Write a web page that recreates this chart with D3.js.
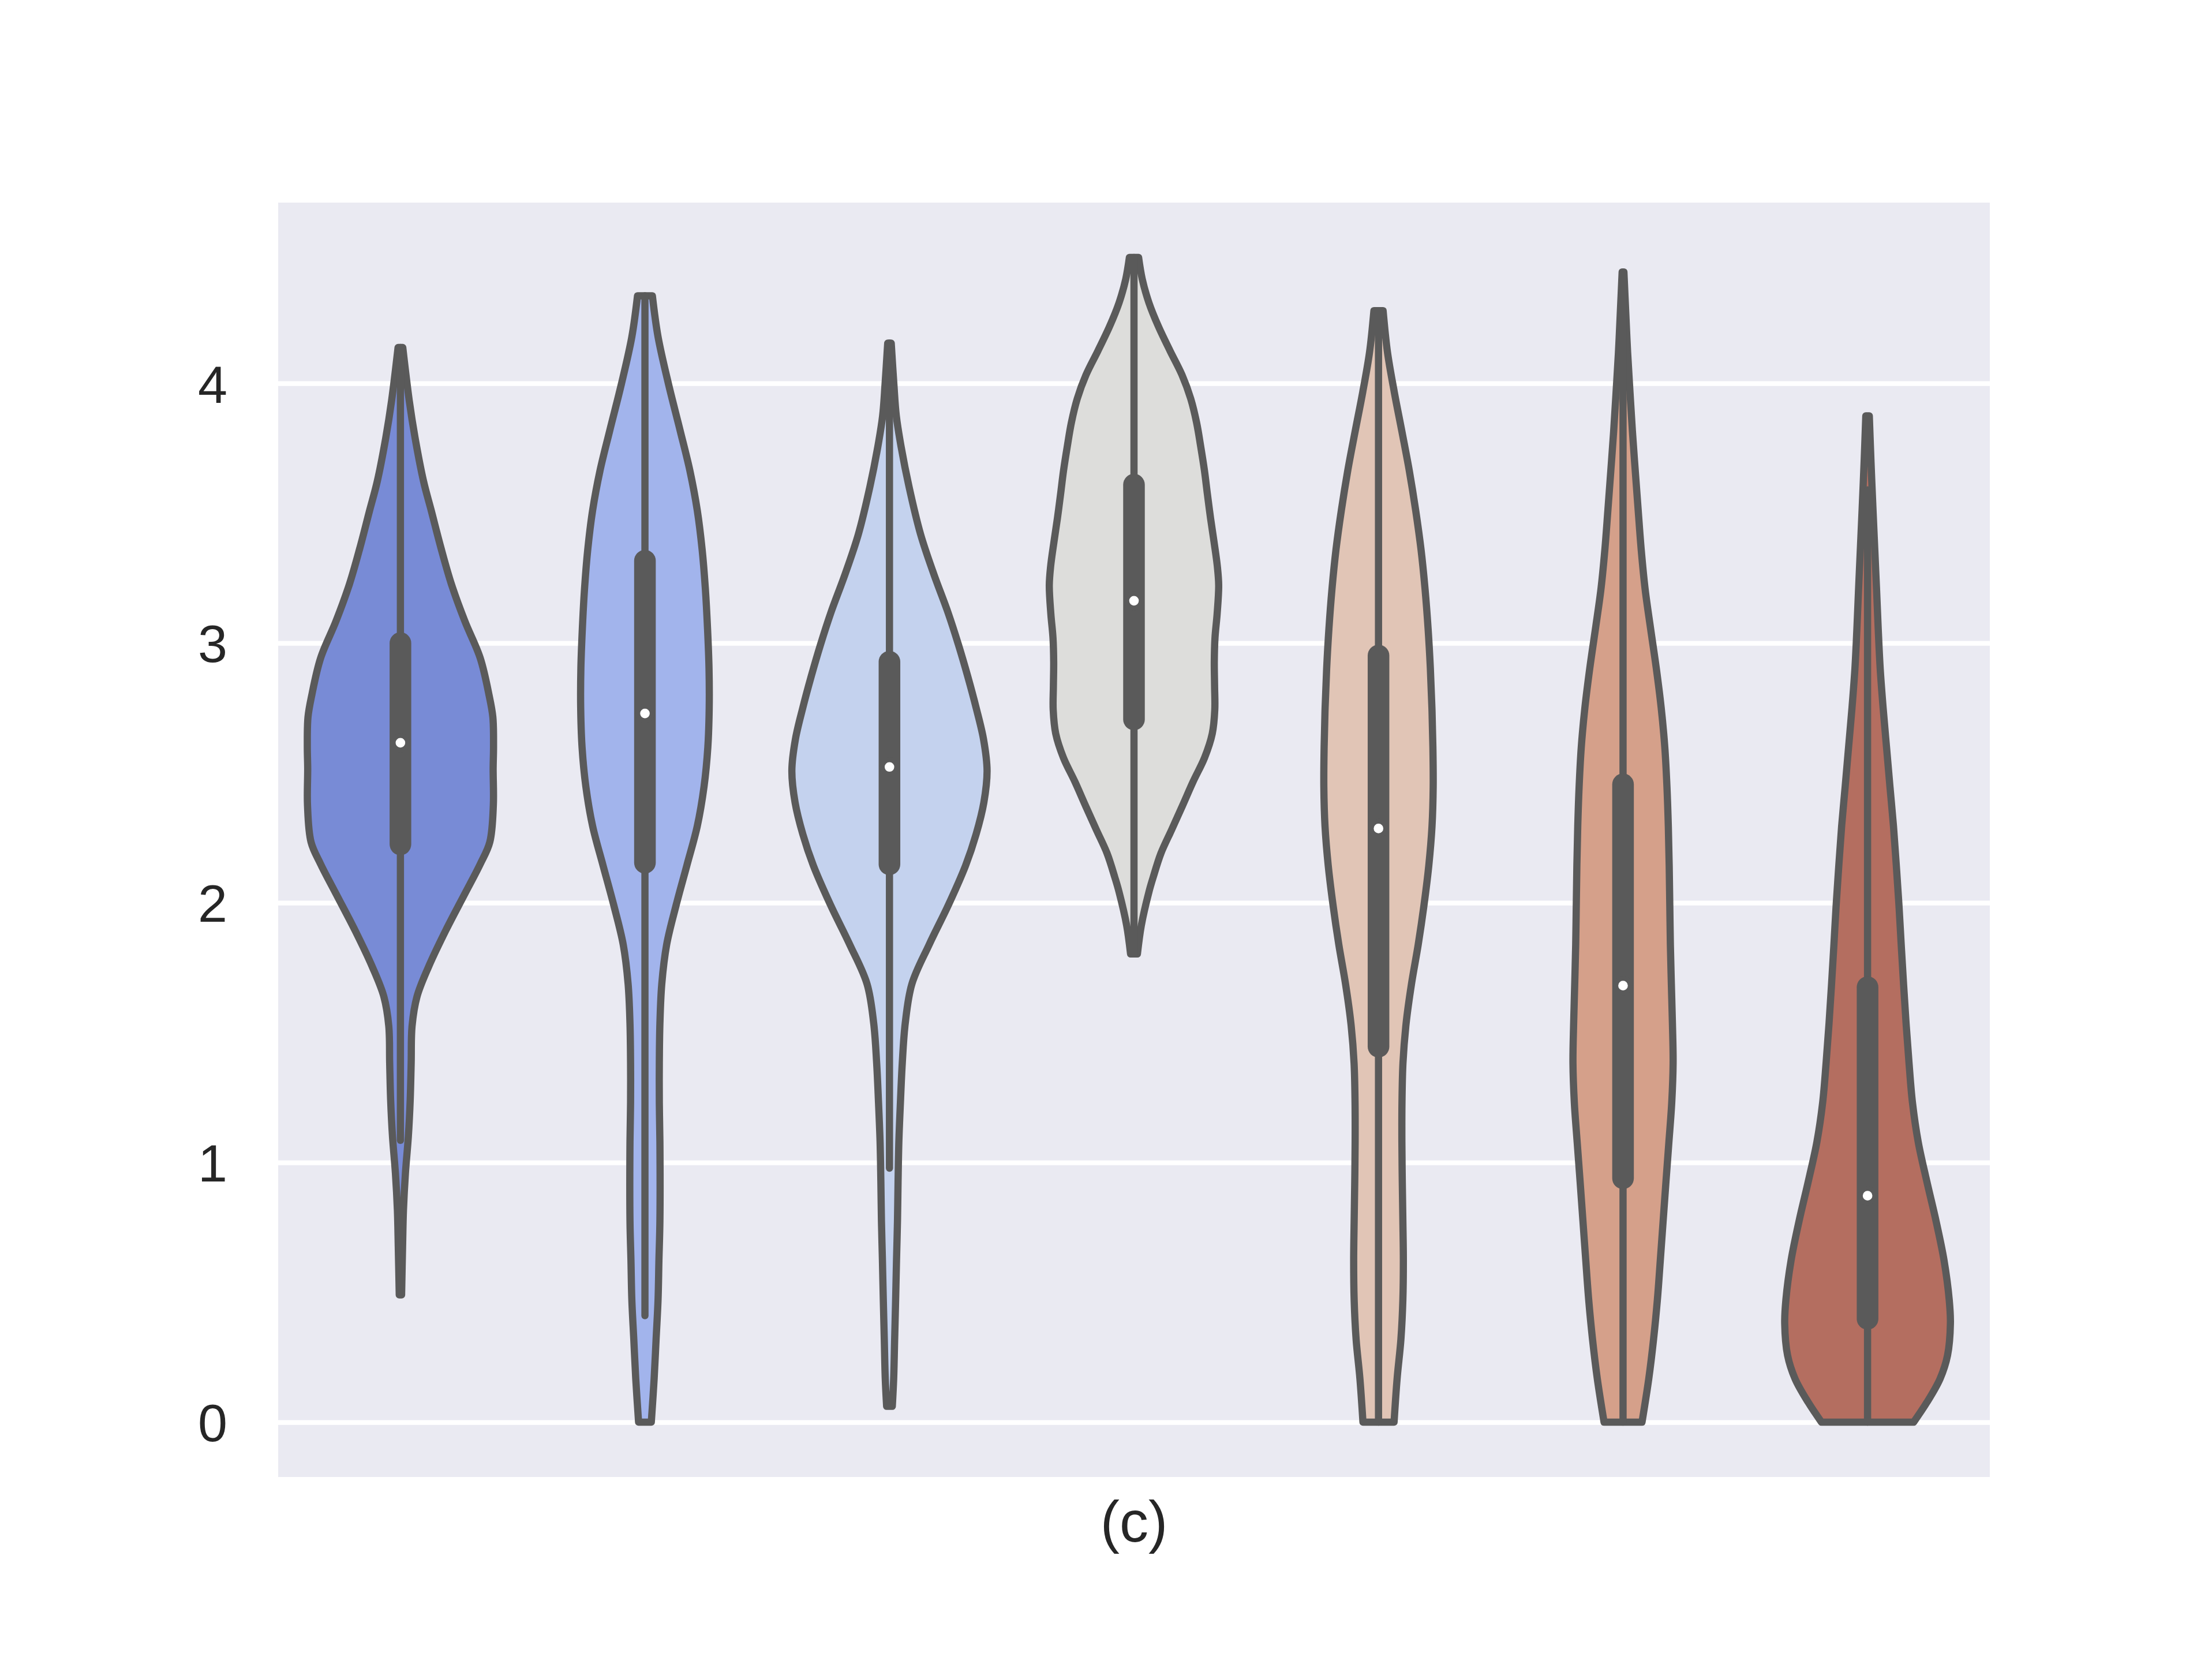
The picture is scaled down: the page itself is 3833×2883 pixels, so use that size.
<!DOCTYPE html>
<html><head><meta charset="utf-8">
<script src="https://cdn.jsdelivr.net/npm/d3@7"></script>
<style>html,body{margin:0;padding:0;background:#fff;} svg{display:block;}</style>
</head><body>
<svg id="chart" width="3833" height="2883"></svg>
<script>
// ---------- data ----------
const categories = ["g1","g2","g3","g4","g5","g6","g7"];
const fillColors = ["#788bd6","#a2b4ec","#c4d2ee","#dddddb","#e1c5b6","#d5a08a","#b46e60"];
const yTicks = [0,1,2,3,4];
const xLabel = "(c)";

// density profiles: [value, density]
const density1 = [[4.138,0.024],[3.934,0.090],[3.792,0.149],[3.622,0.237],[3.509,0.316],[3.367,0.414],[3.226,0.522],[3.084,0.659],[2.942,0.816],[2.800,0.906],[2.715,0.945],[2.602,0.952],[2.517,0.948],[2.375,0.950],[2.234,0.914],[2.149,0.816],[2.035,0.659],[1.893,0.463],[1.752,0.286],[1.638,0.169],[1.525,0.119],[1.383,0.110],[1.241,0.100],[1.100,0.081],[0.958,0.051],[0.816,0.031],[0.675,0.022],[0.490,0.012]];
const density2 = [[4.337,0.076],[4.179,0.134],[3.997,0.241],[3.815,0.362],[3.663,0.460],[3.511,0.535],[3.359,0.585],[3.207,0.618],[3.055,0.640],[2.903,0.655],[2.751,0.657],[2.599,0.643],[2.447,0.604],[2.295,0.535],[2.143,0.428],[1.991,0.319],[1.839,0.222],[1.687,0.172],[1.535,0.153],[1.383,0.147],[1.231,0.147],[1.079,0.153],[0.775,0.153],[0.623,0.143],[0.471,0.134],[0.319,0.114],[0.167,0.094],[0.000,0.065]];
const density3 = [[4.155,0.018],[3.997,0.045],[3.875,0.070],[3.754,0.120],[3.602,0.200],[3.419,0.318],[3.267,0.452],[3.116,0.600],[2.994,0.705],[2.872,0.800],[2.751,0.886],[2.629,0.962],[2.508,0.998],[2.386,0.965],[2.264,0.886],[2.143,0.778],[1.991,0.602],[1.839,0.406],[1.687,0.229],[1.535,0.161],[1.383,0.131],[1.231,0.112],[1.079,0.096],[0.927,0.088],[0.775,0.082],[0.623,0.072],[0.471,0.063],[0.319,0.053],[0.167,0.043],[0.061,0.029]];
const density4 = [[4.485,0.047],[4.402,0.084],[4.310,0.153],[4.218,0.251],[4.125,0.369],[4.033,0.490],[3.941,0.580],[3.849,0.640],[3.757,0.682],[3.665,0.720],[3.572,0.751],[3.480,0.783],[3.388,0.819],[3.296,0.852],[3.222,0.866],[3.112,0.850],[3.019,0.828],[2.927,0.821],[2.835,0.824],[2.743,0.826],[2.651,0.800],[2.559,0.722],[2.466,0.604],[2.374,0.496],[2.282,0.386],[2.190,0.275],[2.098,0.196],[2.042,0.153],[1.913,0.075],[1.803,0.035]];
const density5 = [[4.280,0.047],[4.119,0.092],[3.967,0.161],[3.815,0.239],[3.663,0.315],[3.511,0.380],[3.359,0.435],[3.207,0.476],[3.055,0.507],[2.903,0.530],[2.751,0.546],[2.599,0.556],[2.447,0.559],[2.295,0.547],[2.143,0.514],[1.991,0.465],[1.839,0.406],[1.687,0.337],[1.535,0.282],[1.383,0.250],[1.231,0.240],[1.079,0.239],[0.927,0.243],[0.775,0.249],[0.623,0.254],[0.471,0.249],[0.319,0.229],[0.167,0.190],[0.000,0.159]];
const density6 = [[4.429,0.009],[4.271,0.028],[4.119,0.047],[3.967,0.071],[3.815,0.096],[3.663,0.125],[3.511,0.155],[3.359,0.186],[3.207,0.226],[3.055,0.282],[2.903,0.340],[2.751,0.390],[2.599,0.427],[2.447,0.449],[2.295,0.463],[2.143,0.472],[1.991,0.478],[1.839,0.484],[1.687,0.494],[1.535,0.505],[1.383,0.512],[1.231,0.498],[1.079,0.469],[0.927,0.439],[0.775,0.410],[0.623,0.381],[0.471,0.351],[0.319,0.312],[0.167,0.263],[0.000,0.194]];
const density7 = [[3.875,0.018],[3.700,0.035],[3.511,0.056],[3.359,0.074],[3.207,0.092],[3.055,0.109],[2.903,0.129],[2.751,0.159],[2.599,0.194],[2.447,0.229],[2.295,0.265],[2.143,0.294],[1.991,0.321],[1.839,0.344],[1.687,0.368],[1.535,0.394],[1.383,0.424],[1.231,0.459],[1.079,0.518],[0.927,0.606],[0.775,0.700],[0.623,0.782],[0.471,0.835],[0.380,0.847],[0.258,0.818],[0.167,0.741],[0.076,0.606],[0.000,0.471]];
const densities = [density1,density2,density3,density4,density5,density6,density7];

// box statistics
const q1s        = [2.225, 2.154, 2.148, 2.706, 1.446, 0.939, 0.398];
const medians    = [2.616, 2.729, 2.523, 3.163, 2.286, 1.681, 0.872];
const q3s        = [3.000, 3.317, 2.928, 3.610, 2.952, 2.456, 1.675];
const whiskerLow = [1.085, 0.410, 0.978, 1.803, 0.000, 0.000, 0.000];
const whiskerHigh= [4.138, 4.337, 4.155, 4.485, 4.280, 4.429, 3.590];

// ---------- layout ----------
const W = 3833, H = 2883;
const L = 482, R = 3448, T = 351, B = 2559;
const PT = 600/72;           // px per point
const lw = 1.5*PT;           // line width
const gray = "#5a5a5a";
const textColor = "#262626";
const font = "'Liberation Sans', Arial, Helvetica, sans-serif";

const svg = d3.select("#chart");
svg.append("rect").attr("x",0).attr("y",0).attr("width",W).attr("height",H).attr("fill","#ffffff");
svg.append("rect").attr("x",L).attr("y",T).attr("width",R-L).attr("height",B-T).attr("fill","#eaeaf2");

const y = d3.scaleLinear().domain([-0.211, 4.696]).range([B, T]);
const x = d3.scaleBand().domain(categories).range([L, R]).padding(0);
const w = d3.scaleLinear().domain([0, 1]).range([0, 0.4*x.bandwidth()]);

// y axis with gridlines
const yAxis = d3.axisLeft(y).tickValues(yTicks).tickFormat(d3.format("d"))
  .tickSize(-(R-L)).tickPadding(88);
const gy = svg.append("g").attr("transform", `translate(${L},0)`).call(yAxis);
gy.select(".domain").remove();
gy.selectAll(".tick line").attr("stroke","#ffffff").attr("stroke-width",1*PT);
gy.selectAll(".tick text").attr("fill",textColor).attr("font-family",font)
  .attr("font-size",11*PT).attr("dy","0.358em");

// violins
const plot = svg.append("g");
densities.forEach((dens, i) => {
  const cx = x(categories[i]) + x.bandwidth()/2;
  const area = d3.area()
    .curve(d3.curveCatmullRom.alpha(0.5))
    .y(d => y(d[0]))
    .x0(d => cx - w(d[1]))
    .x1(d => cx + w(d[1]));
  plot.append("path").attr("d", area(dens))
    .attr("fill", fillColors[i]).attr("stroke", gray).attr("stroke-width", lw)
    .attr("stroke-linejoin","round");
  // whisker
  plot.append("line").attr("x1",cx).attr("x2",cx)
    .attr("y1",y(whiskerLow[i])).attr("y2",y(whiskerHigh[i]))
    .attr("stroke",gray).attr("stroke-width",lw).attr("stroke-linecap","round");
  // box
  plot.append("line").attr("x1",cx).attr("x2",cx)
    .attr("y1",y(q1s[i])).attr("y2",y(q3s[i]))
    .attr("stroke",gray).attr("stroke-width",lw*3).attr("stroke-linecap","round");
  // median
  plot.append("circle").attr("cx",cx).attr("cy",y(medians[i])).attr("r",1.5*PT)
    .attr("fill","#ffffff").attr("stroke",gray).attr("stroke-width",1*PT);
});

// x label
svg.append("text").attr("x",(L+R)/2).attr("y",2671)
  .attr("text-anchor","middle").attr("fill",textColor)
  .attr("font-family",font).attr("font-size",12*PT).text(xLabel);
</script>
</body></html>
